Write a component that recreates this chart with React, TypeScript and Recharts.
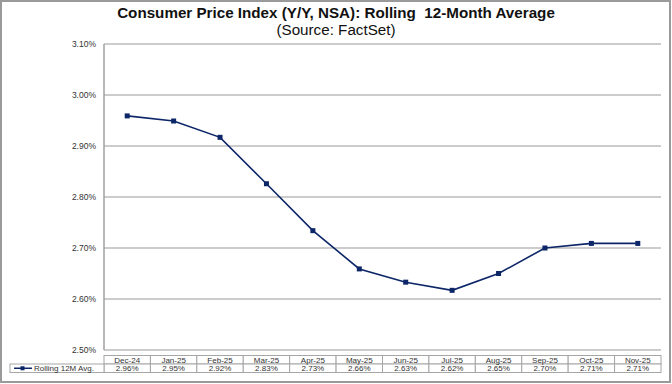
import React from 'react';
import { LineChart, Line, XAxis, YAxis, CartesianGrid } from 'recharts';

const months = ['Dec-24', 'Jan-25', 'Feb-25', 'Mar-25', 'Apr-25', 'May-25', 'Jun-25', 'Jul-25', 'Aug-25', 'Sep-25', 'Oct-25', 'Nov-25'];
const rollingAvg = [2.959, 2.949, 2.917, 2.826, 2.734, 2.659, 2.633, 2.617, 2.65, 2.7, 2.709, 2.709];
const yTicks = [2.5, 2.6, 2.7, 2.8, 2.9, 3.0, 3.1];
const seriesName = 'Rolling 12M Avg.';

const data = months.map((m, i) => ({ month: m, avg: rollingAvg[i] }));

const FONT = "Arial, 'Liberation Sans', sans-serif";
const NAVY = '#0c2668';
const GRID = '#cccccc';
const CELL_BORDER = '#a6a6a6';
const PLOT_LEFT = 104;
const PLOT_RIGHT = 661;
const CELL_W = (PLOT_RIGHT - PLOT_LEFT) / months.length;
const ROW1 = 355.5;
const ROW_H = 8.5;

const pct = (v: number) => v.toFixed(2) + '%';

const SquareDot = (props: any) => {
  const { cx, cy } = props;
  if (cx == null || cy == null) return null;
  return <rect x={cx - 2.5} y={cy - 2.5} width={5} height={5} fill={NAVY} />;
};

// data table under the plot, one column per category tick
const TableTick = (props: any) => {
  const { x, payload } = props;
  const i = payload.index;
  const left = x - CELL_W / 2;
  return (
    <g fontFamily={FONT} fontSize={8} fill="#333">
      <rect x={left} y={ROW1} width={CELL_W} height={ROW_H} fill="#fff" stroke={CELL_BORDER} strokeWidth={1} />
      <rect x={left} y={ROW1 + ROW_H} width={CELL_W} height={ROW_H} fill="#fff" stroke={CELL_BORDER} strokeWidth={1} />
      <text x={x} y={ROW1 + 7} textAnchor="middle" fill="#333">{payload.value}</text>
      <text x={x} y={ROW1 + ROW_H + 7} textAnchor="middle" fill="#333">{pct(rollingAvg[i])}</text>
      {i === 0 && (
        <g>
          <rect x={10} y={ROW1 + ROW_H} width={left - 10} height={ROW_H} fill="#fff" stroke={CELL_BORDER} strokeWidth={1} />
          <line x1={14} x2={32} y1={ROW1 + ROW_H * 1.5} y2={ROW1 + ROW_H * 1.5} stroke={NAVY} strokeWidth={1.5} />
          <rect x={20.5} y={ROW1 + ROW_H * 1.5 - 2} width={4} height={4} fill={NAVY} />
          <text x={34} y={ROW1 + ROW_H + 7} fill="#333">{seriesName}</text>
        </g>
      )}
    </g>
  );
};

export default function App() {
  return (
    <div style={{ position: 'fixed', left: 0, top: 0, width: 672, height: 384, background: '#fff' }}>
      <div
        style={{
          position: 'absolute',
          left: 0,
          top: 0,
          width: 671,
          height: 383,
          boxSizing: 'border-box',
          border: '2px solid #9a9a9a',
        }}
      />
      <div style={{ position: 'absolute', left: 0, top: 5, width: 672, textAlign: 'center', fontFamily: FONT, fontSize: 15.2, fontWeight: 'bold', color: '#111', lineHeight: '15px' }}>
        Consumer Price Index (Y/Y, NSA): Rolling&nbsp; 12-Month Average
      </div>
      <div style={{ position: 'absolute', left: 0, top: 22, width: 672, textAlign: 'center', fontFamily: FONT, fontSize: 15.2, color: '#111', lineHeight: '15px' }}>
        (Source: FactSet)
      </div>
      <div style={{ position: 'absolute', left: 0, top: 0 }}>
        <LineChart width={672} height={384} data={data} margin={{ top: 44, right: 672 - PLOT_RIGHT, bottom: 0, left: 0 }}>
          <CartesianGrid vertical={false} stroke={GRID} strokeWidth={2} />
          <XAxis
            dataKey="month"
            axisLine={false}
            tickLine={false}
            interval={0}
            height={34}
            padding={{ left: CELL_W / 2, right: CELL_W / 2 }}
            tick={<TableTick />}
          />
          <YAxis
            width={PLOT_LEFT}
            domain={[2.5, 3.1]}
            ticks={yTicks}
            tickFormatter={pct}
            axisLine={{ stroke: '#a0a0a0', strokeWidth: 1.5 }}
            tickLine={false}
            tickSize={0}
            tickMargin={8}
            tick={{ fontSize: 8.5, fill: '#333', fontFamily: FONT }}
            interval={0}
          />
          <Line
            type="linear"
            dataKey="avg"
            stroke={NAVY}
            strokeWidth={1.6}
            dot={<SquareDot />}
            activeDot={false}
            isAnimationActive={false}
          />
        </LineChart>
      </div>
    </div>
  );
}
